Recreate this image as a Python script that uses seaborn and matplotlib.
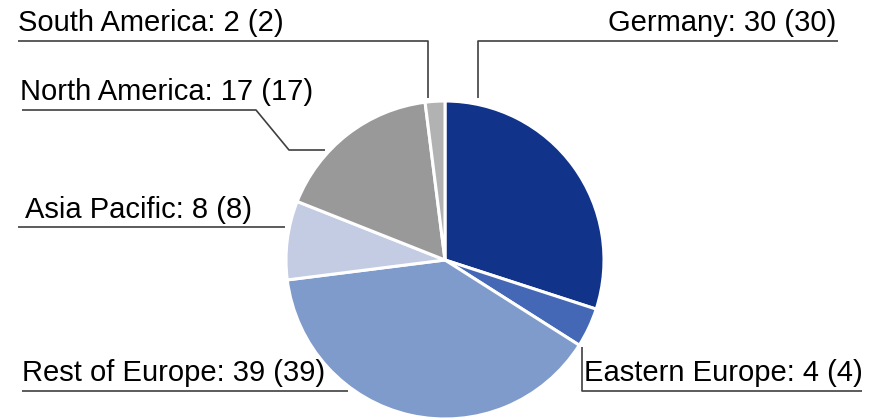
import matplotlib
matplotlib.use('Agg')
import matplotlib.pyplot as plt
import seaborn as sns

# Data
regions = ['Germany', 'Eastern Europe', 'Rest of Europe', 'Asia Pacific', 'North America', 'South America']
values = [30, 4, 39, 8, 17, 2]
prev_values = [30, 4, 39, 8, 17, 2]
colors = ['#12338a', '#4468b5', '#7f9bcb', '#c3cce2', '#999999', '#b2b2b2']

# Layout in pixels (top-left origin): text anchor, alignment and leader path
W, H = 877, 419
center = (445, 260)
radius = 159
label_layout = {
    'Germany': dict(text=(836, 31), ha='right', path=[(838, 41), (478, 41), (478, 98)]),
    'Eastern Europe': dict(text=(863, 381), ha='right', path=[(862, 391), (582, 391), (582, 347)]),
    'Rest of Europe': dict(text=(22, 381), ha='left', path=[(22, 391), (348, 391)]),
    'Asia Pacific': dict(text=(25, 218), ha='left', path=[(18, 227), (285, 227)]),
    'North America': dict(text=(20, 100), ha='left', path=[(22, 110), (256, 110), (289, 150), (325, 150)]),
    'South America': dict(text=(18, 31), ha='left', path=[(18, 41), (428, 41), (428, 98)]),
}

sns.set_theme(style='white')
plt.rcParams['font.family'] = ['Liberation Sans', 'DejaVu Sans']


def flip(pt):
    return pt[0], H - pt[1]


fig = plt.figure(figsize=(W / 100, H / 100), dpi=100)
ax = fig.add_axes([0, 0, 1, 1])

ax.pie(values, colors=sns.color_palette(colors), startangle=90, counterclock=False,
       center=flip(center), radius=radius, frame=True,
       wedgeprops=dict(edgecolor='white', linewidth=2.2))
ax.set_xlim(0, W)
ax.set_ylim(0, H)
ax.set_aspect('equal')
ax.axis('off')

for name, val, prev in zip(regions, values, prev_values):
    lay = label_layout[name]
    tx, ty = flip(lay['text'])
    ax.text(tx, ty, f'{name}: {val} ({prev})', ha=lay['ha'], va='baseline',
            fontsize=21, color='black')
    xs, ys = zip(*[flip(p) for p in lay['path']])
    ax.plot(xs, ys, color='#404040', lw=1.2, solid_capstyle='butt')

plt.savefig('out.png', dpi=100)
plt.close()
